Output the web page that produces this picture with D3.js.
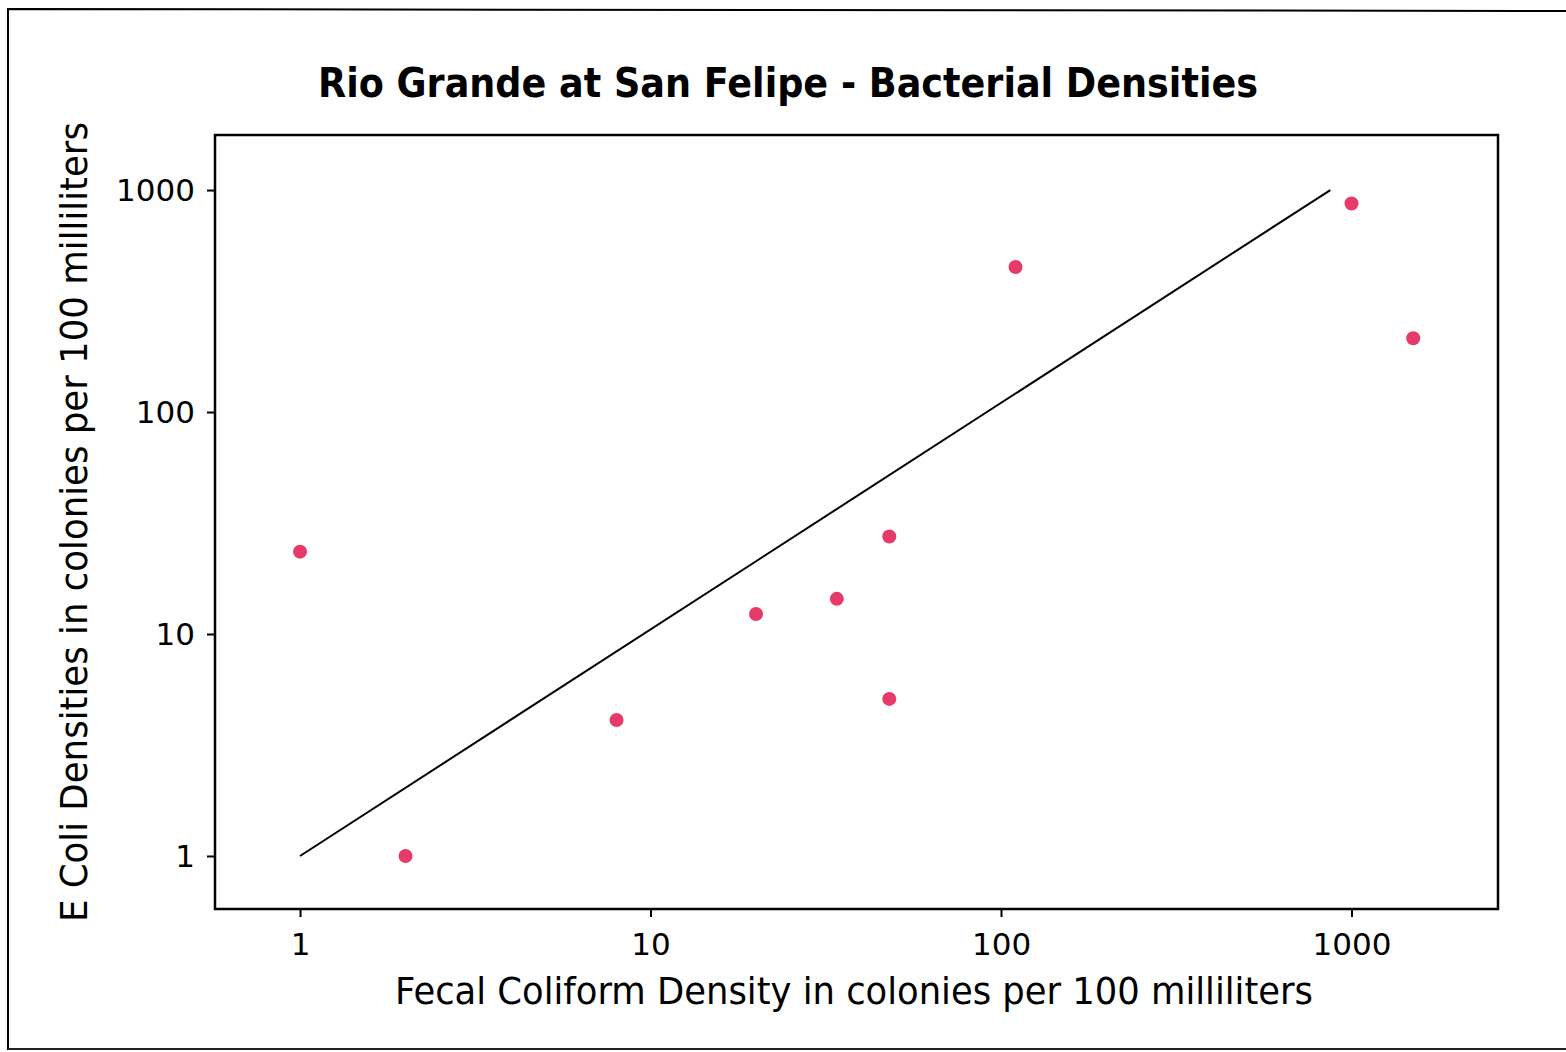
<!DOCTYPE html>
<html><head><meta charset="utf-8">
<script src="https://cdn.jsdelivr.net/npm/d3@7"></script>
<style>body{margin:0;background:#fff;} svg{display:block;}</style>
</head><body>
<svg id="c" width="1566" height="1052"></svg>
<script>
const title = "Rio Grande at San Felipe - Bacterial Densities";
const xLabel = "Fecal Coliform Density in colonies per 100 milliliters";
const yLabel = "E Coli Densities in colonies per 100 milliliters";
const xTicks = [1, 10, 100, 1000];
const yTicks = [1, 10, 100, 1000];
const fecal = [1, 2, 8, 20, 34, 48, 48, 110, 1000, 1500];
const ecoli = [23.5, 1, 4.1, 12.3, 14.4, 27.5, 5.1, 450, 870, 215];
const fitX = [1, 870];
const fitY = [1, 1000];

const svg = d3.select("#c");
const L = 215, R = 1498, T = 135, B = 909;
const x = d3.scaleLog().domain([0.572, 2618]).range([L, R]);
const y = d3.scaleLog().domain([0.577, 1770]).range([B, T]);

// outer frame
svg.append("path").attr("d", "M8,1050 L8,9 L1566,11").attr("fill","none").attr("stroke","#000").attr("stroke-width",2);
svg.append("line").attr("x1",8).attr("x2",1566).attr("y1",1049).attr("y2",1049).attr("stroke","#222").attr("stroke-width",2);

// title
svg.append("text").attr("x", 788).attr("y", 97).attr("text-anchor","middle")
  .attr("font-family","DejaVu Sans").attr("font-weight","bold").attr("font-size",41)
  .attr("textLength",940).attr("lengthAdjust","spacingAndGlyphs").text(title);

// axes
const xa = svg.append("g").attr("transform",`translate(0,${B})`)
  .call(d3.axisBottom(x).tickValues(xTicks).tickFormat(d3.format("d")).tickSize(8).tickPadding(16));
const ya = svg.append("g").attr("transform",`translate(${L},0)`)
  .call(d3.axisLeft(y).tickValues(yTicks).tickFormat(d3.format("d")).tickSize(8).tickPadding(12));
[xa, ya].forEach(g => {
  g.select(".domain").remove();
  g.selectAll("line").attr("stroke","#000").attr("stroke-width",2);
  g.selectAll("text").attr("font-family","DejaVu Sans").attr("font-size",31).attr("fill","#000");
});
ya.selectAll("text").attr("dy","0.35em");

// plot frame
svg.append("rect").attr("x",L).attr("y",T).attr("width",R-L).attr("height",B-T)
  .attr("fill","none").attr("stroke","#000").attr("stroke-width",2.5);

// axis labels
svg.append("text").attr("x", 854).attr("y", 1004).attr("text-anchor","middle")
  .attr("font-family","DejaVu Sans").attr("font-size",38)
  .attr("textLength",918).attr("lengthAdjust","spacingAndGlyphs").text(xLabel);
svg.append("text").attr("transform","translate(87,522) rotate(-90)").attr("text-anchor","middle")
  .attr("font-family","DejaVu Sans").attr("font-size",38)
  .attr("textLength",800).attr("lengthAdjust","spacingAndGlyphs").text(yLabel);

// fit line
const fit = fitX.map((v,i)=>[v, fitY[i]]);
svg.append("path").datum(fit)
  .attr("d", d3.line().x(d=>x(d[0])).y(d=>y(d[1])))
  .attr("fill","none").attr("stroke","#000").attr("stroke-width",2);

// points
svg.append("g").selectAll("circle").data(fecal.map((v,i)=>[v, ecoli[i]])).join("circle")
  .attr("cx", d=>x(d[0])).attr("cy", d=>y(d[1])).attr("r",7).attr("fill","#e63a6a");
</script>
</body></html>
